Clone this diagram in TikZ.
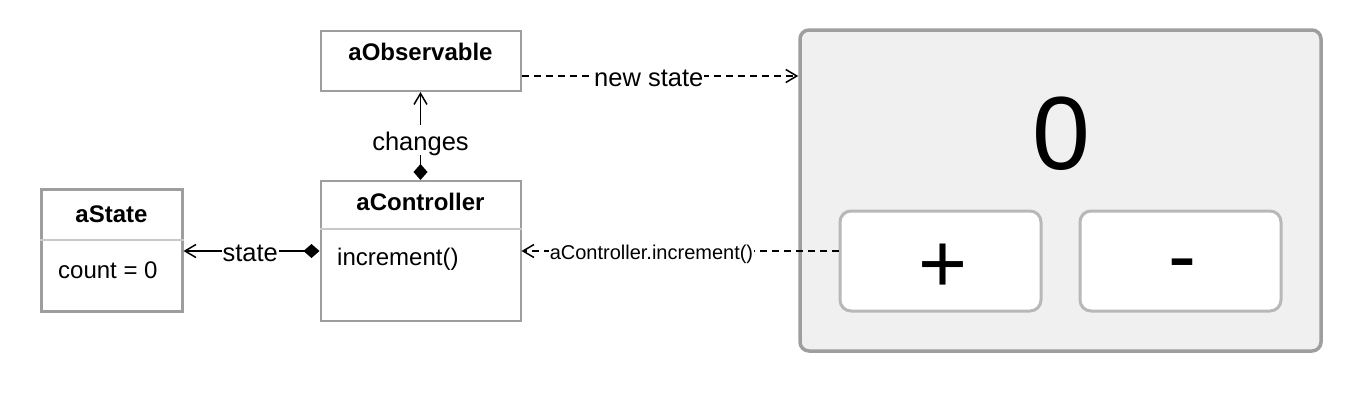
\documentclass[tikz,border=0pt]{standalone}
\usepackage{fontspec}
\setmainfont{Liberation Sans}
\usetikzlibrary{arrows.meta}

\definecolor{boxgray}{HTML}{9E9E9E}
\definecolor{divgray}{HTML}{C8C8C8}
\definecolor{panelfill}{HTML}{F0F0F0}
\definecolor{btngray}{HTML}{B8B8B8}

\tikzset{
	umlbox/.style={draw=boxgray, line width=2pt, fill=white, inner sep=0pt},
	divider/.style={draw=divgray, line width=2pt},
	boxtitle/.style={font=\fontsize{24}{28}\selectfont\bfseries, inner sep=0pt},
	boxtext/.style={font=\fontsize{24}{28}\selectfont, inner sep=0pt},
	lbl/.style={font=\fontsize{25.5}{30}\selectfont, fill=white, inner sep=1pt,
		text height=24pt, text depth=4pt},
	smalllbl/.style={lbl, font=\fontsize{20}{24}\selectfont,
		text height=19pt, text depth=3pt},
	assoc/.style={line width=1.5pt,
		{Diamond[length=16pt,width=14pt]}-{Straight Barb[length=11pt,width=13pt]}},
	dep/.style={line width=1.5pt, dash pattern=on 7pt off 5pt,
		-{Straight Barb[length=11pt,width=13pt]}},
	panelbox/.style={draw=boxgray, line width=3.5pt, fill=panelfill,
		rounded corners=9pt, inner sep=0pt},
	btn/.style={draw=btngray, line width=3pt, fill=white,
		rounded corners=11pt, inner sep=0pt, minimum width=201pt, minimum height=100pt},
	bigsign/.style={font=\fontsize{84}{90}\selectfont, inner sep=0pt}
}

\begin{document}
\begin{tikzpicture}[x=1pt,y=-1pt]
	\useasboundingbox (0,0) rectangle (1362,402);

	% classes
	\node[umlbox, line width=3pt, minimum width=141pt, minimum height=122pt] (aState) at (111.5,250.5) {};
	\node[umlbox, minimum width=200pt, minimum height=60pt] (aObs) at (420.5,61) {};
	\node[umlbox, minimum width=200pt, minimum height=140pt] (aCtrl) at (420.5,251) {};

	\draw[divider] ([yshift=-52pt]aState.north west) -- ([yshift=-52pt]aState.north east);
	\draw[divider] ([yshift=-49pt]aCtrl.north west) -- ([yshift=-49pt]aCtrl.north east);

	\node[boxtitle, anchor=base] (aStateName) at (111.5,222) {aState};
	\node[boxtext, anchor=base west] (aStateCount) at (58,278) {count = 0};
	\node[boxtitle, anchor=base] (aObsName) at (420.5,60) {aObservable};
	\node[boxtitle, anchor=base] (aCtrlName) at (420.5,210) {aController};
	\node[boxtext, anchor=base west] (aCtrlInc) at (337,265) {increment()};

	% view
	\node[panelbox, minimum width=521pt, minimum height=321pt] (panel) at (1060.5,190.5) {};
	\node[font=\fontsize{104}{110}\selectfont, inner sep=0pt, anchor=base] (counter) at (1061,169) {0};
	\node[btn] (plusBtn) at (940.5,261) {};
	\node[btn] (minusBtn) at (1180.5,261) {};
	\node[bigsign, anchor=base] (plusTxt) at (943,292) {+};
	\node[bigsign, anchor=base] (minusTxt) at (1182,284) {-};

	% connectors
	\draw[assoc] (aCtrl.west) -- (aCtrl.west -| aState.east) node[lbl, pos=0.51] {state};
	\draw[assoc] (aCtrl.north) -- (aObs.south) node[lbl, pos=0.45] {changes};
	\draw[dep] ([yshift=-15pt]aObs.east) -- ([yshift=-15pt]aObs.east -| panel.west)
		node[lbl, pos=0.46] {new state};
	\draw[dep] ([yshift=10pt]plusBtn.west) -- ([yshift=10pt]plusBtn.west -| aCtrl.east)
		node[smalllbl, pos=0.59] {aController.increment()};
\end{tikzpicture}
\end{document}
